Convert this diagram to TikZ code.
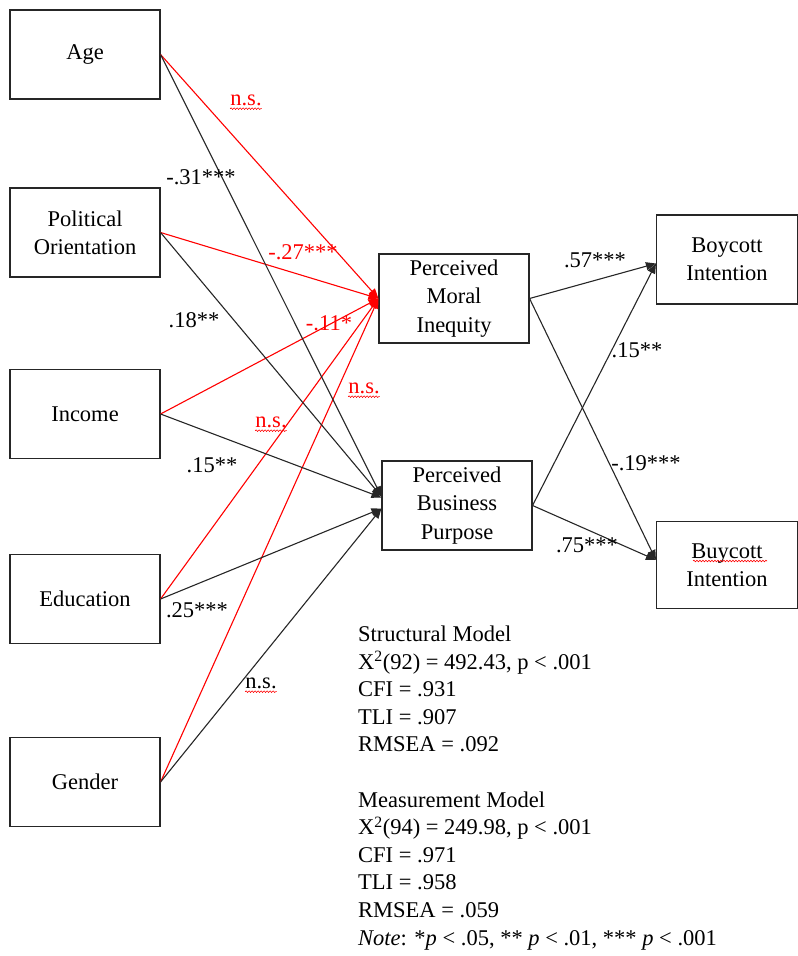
\documentclass[tikz,border=0pt]{standalone}
\usepackage{fontspec}
\setmainfont{Liberation Serif}
\usetikzlibrary{arrows.meta,decorations.pathmorphing,calc}
\begin{document}
\begin{tikzpicture}[x=1pt,y=-1pt,
  every node/.style={font=\fontsize{22.5}{28.3}\selectfont},
  box/.style={draw=black!85, line width=1.1pt, align=center, inner sep=0pt, minimum width=150pt, minimum height=89pt},
  lnk/.style={line width=1.1pt, black!85, -{Triangle[length=10pt,width=8pt]}},
  rlnk/.style={line width=1.1pt, red, -{Triangle[length=10pt,width=8pt]}},
  lab/.style={inner sep=0pt},
  rlab/.style={lab, text=red},
  squig/.style={red, line width=0.6pt, decorate, decoration={snake, amplitude=0.8pt, segment length=3pt}}
]
\useasboundingbox (0,0) rectangle (798,956);

% boxes
\node[box] (age) at (85,54.5) {Age};
\node[box] (pol) at (85,232.5) {Political\\Orientation};
\node[box] (inc) at (85,414) {Income};
\node[box] (edu) at (85,599) {Education};
\node[box] (gen) at (85,782) {Gender};
\node[box] (pmi) at (454,298.5) {Perceived\\Moral\\Inequity};
\node[box] (pbp) at (457,505.5) {Perceived\\Business\\Purpose};
\node[box, minimum width=141pt] (boy) at (727,259.5) {Boycott\\Intention};
\node[box, minimum width=141pt, minimum height=87pt] (buy) at (727,565) {Buycott\\Intention};

% red paths to PMI
\draw[rlnk] (age.east) -- (pmi.west);
\draw[rlnk] (pol.east) -- (pmi.west);
\draw[rlnk] (inc.east) -- (pmi.west);
\draw[rlnk] (edu.east) -- (pmi.west);
\draw[rlnk] (gen.east) -- (pmi.west);

% black paths to PBP
\draw[lnk] (age.east) -- ([yshift=9pt]pbp.west);
\draw[lnk] (pol.east) -- ([yshift=9pt]pbp.west);
\draw[lnk] (inc.east) -- ([yshift=8pt]pbp.west);
\draw[lnk] (edu.east) -- ([yshift=-3pt]pbp.west);
\draw[lnk] (gen.east) -- ([yshift=-3pt]pbp.west);

% right side
\draw[lnk] (pmi.east) -- ([yshift=-4pt]boy.west);
\draw[lnk] (pbp.east) -- ([yshift=-4pt]boy.west);
\draw[lnk] (pmi.east) -- ([yshift=5pt]buy.west);
\draw[lnk] (pbp.east) -- ([yshift=5pt]buy.west);

% labels
\node[rlab] (l1) at (246,100) {n.s.};
\node[lab]  (l2) at (201,177) {-.31***};
\node[rlab] (l3) at (303,252) {-.27***};
\node[lab]  (l4) at (194,320) {.18**};
\node[rlab] (l5) at (329,323) {-.11*};
\node[rlab] (l6) at (271,422) {n.s.};
\node[rlab] (l7) at (364,388) {n.s.};
\node[lab]  (l8) at (212,465) {.15**};
\node[lab]  (l9) at (197,610) {.25***};
\node[lab]  (l10) at (261,683) {n.s.};
\node[lab]  (l11) at (595,260) {.57***};
\node[lab]  (l12) at (637,350) {.15**};
\node[lab]  (l13) at (646,463) {-.19***};
\node[lab]  (l14) at (587,545) {.75***};

% spell-check squiggles
\foreach \n in {l1,l6,l7,l10}{
  \draw[squig] ([yshift=-3pt]\n.south west) -- ([yshift=-3pt]\n.south east);
}
\draw[squig] ($(buy.center)+(-34,-4)$) -- ($(buy.center)+(40,-4)$);

% fit statistics (base = baseline of last line)
\node[lab, anchor=base west, align=left, font=\fontsize{22.5}{27.6}\selectfont] (stats) at (358,945)
{Structural Model\\
X\textsuperscript{2}(92) = 492.43, p < .001\\
CFI = .931\\
TLI = .907\\
RMSEA = .092\\[27.6pt]
Measurement Model\\
X\textsuperscript{2}(94) = 249.98, p < .001\\
CFI = .971\\
TLI = .958\\
RMSEA = .059\\
\textit{Note}: *\textit{p} < .05, ** \textit{p} < .01, *** \textit{p} < .001};
\end{tikzpicture}
\end{document}
